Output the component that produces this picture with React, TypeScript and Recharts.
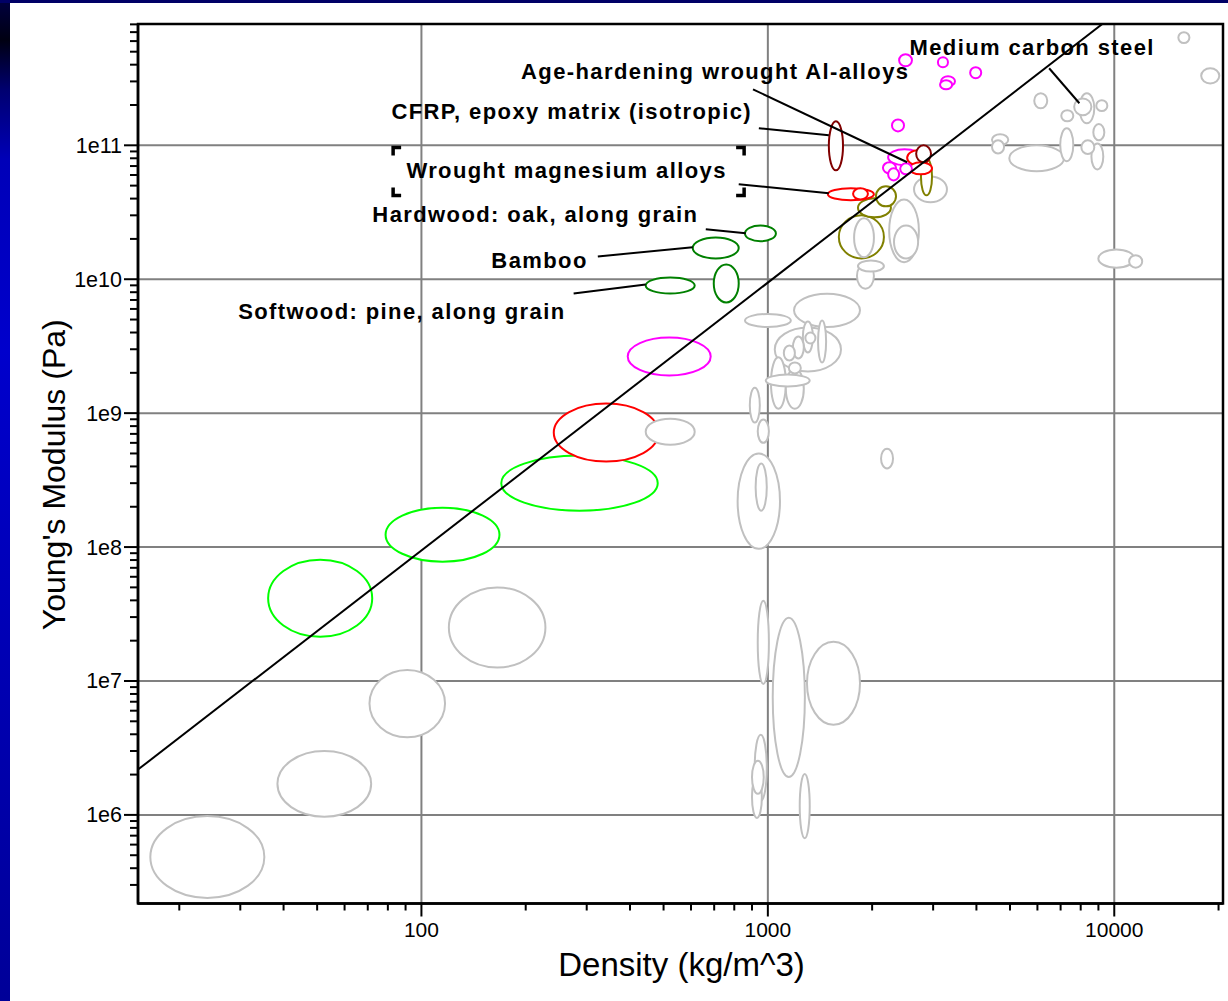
import { CartesianGrid, Label, ReferenceArea, ReferenceDot, ReferenceLine, ScatterChart, XAxis, YAxis } from 'recharts'

// [density low, density high, modulus low, modulus high]
type Range = [number, number, number, number]

interface Note {
  text: string
  density: number
  modulus: number
  framed?: boolean
}

const FONT = '"Liberation Sans", Arial, sans-serif'

const X_DOMAIN: [number, number] = [15.2, 20600]
const Y_DOMAIN: [number, number] = [2.18e5, 8.05e11]

const xMajorTicks = [100, 1000, 10000]
const xMajorLabels = ['100', '1000', '10000']
const yMajorTicks = [1e6, 1e7, 1e8, 1e9, 1e10, 1e11]
const yMajorLabels = ['1e6', '1e7', '1e8', '1e9', '1e10', '1e11']
const xDecades = [10, 100, 1000, 10000]
const yDecades = [1e5, 1e6, 1e7, 1e8, 1e9, 1e10, 1e11]
const tickSteps = [1, 2, 3, 4, 5, 6, 7, 8, 9]

const greyRanges: Range[] = [
  [16.5, 35.2, 2.4e5, 9.8e5],
  [38.4, 71.6, 9.7e5, 3.0e6],
  [70.8, 117, 3.8e6, 1.21e7],
  [120, 228, 1.26e7, 5.0e7],
  [444, 615, 5.8e8, 9.1e8],
  [859, 1165, 4.4e9, 5.5e9],
  [1190, 1845, 4.4e9, 7.8e9],
  [1047, 1626, 2.05e9, 4.36e9],
  [1396, 1473, 2.39e9, 4.92e9],
  [1262, 1349, 2.84e9, 4.84e9],
  [1283, 1372, 3.31e9, 4.0e9],
  [1112, 1197, 2.47e9, 3.2e9],
  [1181, 1270, 2.56e9, 3.73e9],
  [1021, 1127, 1.08e9, 2.61e9],
  [1127, 1270, 1.08e9, 2.15e9],
  [1150, 1245, 1.98e9, 2.39e9],
  [986, 1321, 1.58e9, 1.94e9],
  [887, 948, 8.5e8, 1.55e9],
  [935, 1007, 6.0e8, 8.95e8],
  [2122, 2298, 3.86e8, 5.43e8],
  [818, 1084, 9.7e7, 5.0e8],
  [922, 993, 1.87e8, 4.2e8],
  [935, 1007, 9.5e6, 3.97e7],
  [1033, 1279, 1.92e6, 2.97e7],
  [1297, 1845, 4.71e6, 1.96e7],
  [916, 993, 1.27e6, 3.96e6],
  [900, 973, 1.44e6, 2.54e6],
  [900, 961, 9.5e5, 1.95e6],
  [1236, 1321, 6.7e5, 2.02e6],
  [2642, 3289, 3.75e10, 5.86e10],
  [2240, 2729, 1.34e10, 3.94e10],
  [2313, 2715, 1.43e10, 2.52e10],
  [1774, 2024, 1.46e10, 2.85e10],
  [1820, 2163, 1.14e10, 1.38e10],
  [1808, 2024, 8.5e9, 1.31e10],
  [8995, 11430, 1.22e10, 1.67e10],
  [11040, 12040, 1.22e10, 1.51e10],
  [4977, 7160, 6.4e10, 1.0e11],
  [4436, 4943, 1.0e11, 1.21e11],
  [4436, 4808, 8.7e10, 1.09e11],
  [6982, 7616, 7.6e10, 1.34e11],
  [7031, 7616, 1.51e11, 1.83e11],
  [8035, 8758, 8.6e10, 1.09e11],
  [8590, 9296, 6.6e10, 1.03e11],
  [8700, 9360, 1.09e11, 1.44e11],
  [15310, 16480, 5.8e11, 7.0e11],
  [17820, 20100, 2.9e11, 3.76e11],
  [5875, 6405, 1.89e11, 2.45e11],
  [7660, 8590, 1.68e11, 2.24e11],
  [7930, 8758, 1.46e11, 2.45e11],
  [8873, 9550, 1.8e11, 2.17e11]
]

const magentaRanges: Range[] = [
  [394, 684, 1.91e9, 3.67e9],
  [2393, 2606, 3.89e11, 4.79e11],
  [3097, 3311, 3.83e11, 4.55e11],
  [3162, 3469, 2.76e11, 3.28e11],
  [3141, 3404, 2.62e11, 3.06e11],
  [3837, 4130, 3.17e11, 3.83e11],
  [2282, 2472, 1.27e11, 1.56e11],
  [2224, 2767, 7.09e10, 9.33e10],
  [2149, 2344, 6.18e10, 7.47e10],
  [2224, 2393, 5.47e10, 6.73e10],
  [2410, 2606, 6.07e10, 7.33e10]
]

const redRanges: Range[] = [
  [241, 484, 4.35e8, 1.18e9],
  [2524, 2918, 7.09e10, 9.18e10],
  [2559, 2978, 6.07e10, 7.47e10],
  [1490, 2024, 3.88e10, 4.78e10],
  [1762, 1945, 3.94e10, 4.78e10]
]

const darkRedRanges: Range[] = [
  [1500, 1648, 6.5e10, 1.51e11],
  [2680, 2958, 7.47e10, 1.0e11]
]

const oliveRanges: Range[] = [
  [2767, 2978, 4.23e10, 8.0e10],
  [2051, 2344, 3.5e10, 4.94e10],
  [1820, 2266, 2.9e10, 4.02e10],
  [1603, 2163, 1.43e10, 3.0e10]
]

const darkGreenRanges: Range[] = [
  [444, 615, 7.83e9, 1.03e10],
  [698, 824, 6.71e9, 1.29e10],
  [607, 824, 1.43e10, 2.05e10],
  [859, 1055, 1.92e10, 2.52e10]
]

const limeRanges: Range[] = [
  [36.1, 72.1, 2.14e7, 8.05e7],
  [78.8, 168, 7.78e7, 1.97e8],
  [170, 481, 1.87e8, 4.82e8]
]

// E = C * rho^2 guide line
const guideLine = [
  { density: 15.2, modulus: 2.18e6 },
  { density: 9236, modulus: 8.05e11 }
]

const notes: Note[] = [
  { text: 'Medium carbon steel', density: 5794, modulus: 4.71e11 },
  { text: 'Age-hardening wrought Al-alloys', density: 705, modulus: 3.11e11 },
  { text: 'CFRP, epoxy matrix (isotropic)', density: 271.6, modulus: 1.56e11 },
  { text: 'Wrought magnesium alloys', density: 262.5, modulus: 5.66e10, framed: true },
  { text: 'Hardwood: oak, along grain', density: 213.3, modulus: 2.66e10 },
  { text: 'Bamboo', density: 219.3, modulus: 1.22e10 },
  { text: 'Softwood: pine, along grain', density: 87.8, modulus: 5.01e9 }
]

// [density from, modulus from, density to, modulus to]
const leaders: Range[] = [
  [6486, 3.76e11, 7930, 2.06e11],
  [906, 2.62e11, 2524, 7.47e10],
  [942, 1.34e11, 1500, 1.19e11],
  [824, 5.12e10, 1500, 4.38e10],
  [662, 2.36e10, 863, 2.2e10],
  [323, 1.48e10, 607, 1.73e10],
  [275, 7.83e9, 444, 9.14e9]
]

const families = [
  { color: '#c0c0c0', ranges: greyRanges },
  { color: '#ff00ff', ranges: magentaRanges },
  { color: '#ff0000', ranges: redRanges },
  { color: '#800000', ranges: darkRedRanges },
  { color: '#808000', ranges: oliveRanges },
  { color: '#008000', ranges: darkGreenRanges },
  { color: '#00ff00', ranges: limeRanges }
]

const logArea = (r: Range) => Math.log10(r[1] / r[0]) * Math.log10(r[3] / r[2])

// big ones first so the small ones stay visible on top
const ellipses = families
  .flatMap((f) => f.ranges.map((range) => ({ color: f.color, range })))
  .sort((a, b) => logArea(b.range) - logArea(a.range))

const xTicks = xDecades
  .flatMap((d) => tickSteps.map((s) => s * d))
  .filter((v) => v >= X_DOMAIN[0] && v <= X_DOMAIN[1])
const yTicks = yDecades
  .flatMap((d) => tickSteps.map((s) => s * d))
  .filter((v) => v >= Y_DOMAIN[0] && v <= Y_DOMAIN[1])

const renderXTick = (props: any) => {
  const { x, y, payload } = props
  const idx = xMajorTicks.indexOf(payload.value)
  const major = idx >= 0
  return (
    <g>
      <line x1={x} x2={x} y1={y} y2={y + (major ? 13 : 7)} stroke="#000" strokeWidth={2} />
      {major && (
        <text x={x} y={y + 33.5} textAnchor="middle" fontSize={21} fontFamily={FONT} fill="#000">
          {xMajorLabels[idx]}
        </text>
      )}
    </g>
  )
}

const renderYTick = (props: any) => {
  const { x, y, payload } = props
  const idx = yMajorTicks.indexOf(payload.value)
  const major = idx >= 0
  return (
    <g>
      <line x1={x - (major ? 14 : 8)} x2={x} y1={y} y2={y} stroke="#000" strokeWidth={2} />
      {major && (
        <text x={x - 16} y={y + 7.5} textAnchor="end" fontSize={21.5} fontFamily={FONT} fill="#000">
          {yMajorLabels[idx]}
        </text>
      )}
    </g>
  )
}

const renderXTitle = (props: any) => {
  const vb = props.viewBox ?? { x: 138, y: 903.5, width: 1085, height: 97.5 }
  return (
    <text x={vb.x + vb.width / 2 + 1} y={vb.y + 72.5} textAnchor="middle" fontSize={33} fontFamily={FONT} fill="#000">
      Density (kg/m^3)
    </text>
  )
}

const renderYTitle = (props: any) => {
  const vb = props.viewBox ?? { x: 0, y: 24, width: 138, height: 879.5 }
  const cx = vb.x + 54
  const cy = vb.y + vb.height / 2 + 11
  return (
    <text
      x={cx}
      y={cy}
      transform={`rotate(-90 ${cx} ${cy})`}
      textAnchor="middle"
      dominantBaseline="central"
      fontSize={32}
      fontFamily={FONT}
      fill="#000"
    >
      Young's Modulus (Pa)
    </text>
  )
}

const ellipseShape = (color: string) => (p: any) => (
  <ellipse
    cx={p.x + p.width / 2}
    cy={p.y + p.height / 2}
    rx={Math.abs(p.width) / 2}
    ry={Math.abs(p.height) / 2}
    fill="#fff"
    stroke={color}
    strokeWidth={2}
  />
)

const noteShape = (note: Note) => (p: any) => {
  const l = p.cx - 173.5
  const r = p.cx + 177.5
  const t = p.cy - 31
  const b = p.cy + 17
  return (
    <g>
      <text
        x={p.cx}
        y={p.cy}
        textAnchor="middle"
        fontSize={22}
        fontWeight="bold"
        letterSpacing={1.4}
        fontFamily={FONT}
        fill="#000"
      >
        {note.text}
      </text>
      {note.framed && (
        <path
          d={`M${l} ${t + 8}V${t}H${l + 8}M${r - 8} ${t}H${r}V${t + 8}M${l} ${b - 8}V${b}H${l + 8}M${r - 8} ${b}H${r}V${b - 8}`}
          stroke="#000"
          strokeWidth={3.5}
          fill="none"
        />
      )}
    </g>
  )
}

const App = (): React.JSX.Element => {
  return (
    <div style={{ position: 'absolute', left: 0, top: 0, width: 1228, height: 1001, background: '#fff', overflow: 'hidden' }}>
      <div
        style={{
          position: 'absolute',
          left: 0,
          top: 0,
          width: 10,
          height: 1001,
          background:
            'linear-gradient(to bottom, #000040 0%, #000012 4%, #000070 9%, #0000b8 16%, #0000cc 35%, #0000b0 70%, #000098 100%)'
        }}
      />
      <div style={{ position: 'absolute', left: 0, top: 0, width: 1228, height: 3, background: '#000066' }} />
      <div style={{ position: 'absolute', left: 0, top: 0 }}>
        <ScatterChart width={1228} height={1001} margin={{ top: 24, right: 5, bottom: 0, left: 0 }}>
          <CartesianGrid
            horizontalValues={yMajorTicks}
            verticalValues={xMajorTicks}
            stroke="#808080"
            strokeWidth={2}
          />
          <XAxis
            type="number"
            dataKey="density"
            scale="log"
            domain={X_DOMAIN}
            allowDataOverflow
            ticks={xTicks}
            interval={0}
            height={97.5}
            tickSize={0}
            tickMargin={0}
            tickLine={false}
            tick={renderXTick}
            axisLine={{ stroke: '#000', strokeWidth: 2.5 }}
          >
            <Label content={renderXTitle} />
          </XAxis>
          <YAxis
            type="number"
            dataKey="modulus"
            scale="log"
            domain={Y_DOMAIN}
            allowDataOverflow
            ticks={yTicks}
            interval={0}
            width={138}
            tickSize={0}
            tickMargin={0}
            tickLine={false}
            tick={renderYTick}
            axisLine={{ stroke: '#000', strokeWidth: 2.5 }}
          >
            <Label content={renderYTitle} />
          </YAxis>
          {ellipses.map((e, i) => (
            <ReferenceArea
              key={`e${i}`}
              x1={e.range[0]}
              x2={e.range[1]}
              y1={e.range[2]}
              y2={e.range[3]}
              ifOverflow="hidden"
              shape={ellipseShape(e.color)}
            />
          ))}
          <ReferenceArea
            x1={X_DOMAIN[0]}
            x2={X_DOMAIN[1]}
            y1={Y_DOMAIN[0]}
            y2={Y_DOMAIN[1]}
            ifOverflow="visible"
            fill="none"
            fillOpacity={0}
            stroke="#000"
            strokeWidth={2.5}
          />
          <ReferenceLine
            segment={[
              { x: guideLine[0].density, y: guideLine[0].modulus },
              { x: guideLine[1].density, y: guideLine[1].modulus }
            ]}
            stroke="#000"
            strokeWidth={2}
            ifOverflow="hidden"
          />
          {leaders.map((l, i) => (
            <ReferenceLine
              key={`l${i}`}
              segment={[
                { x: l[0], y: l[1] },
                { x: l[2], y: l[3] }
              ]}
              stroke="#000"
              strokeWidth={2}
              ifOverflow="visible"
            />
          ))}
          {notes.map((n, i) => (
            <ReferenceDot key={`n${i}`} x={n.density} y={n.modulus} r={0} ifOverflow="visible" shape={noteShape(n)} />
          ))}
        </ScatterChart>
      </div>
    </div>
  )
}

export default App
